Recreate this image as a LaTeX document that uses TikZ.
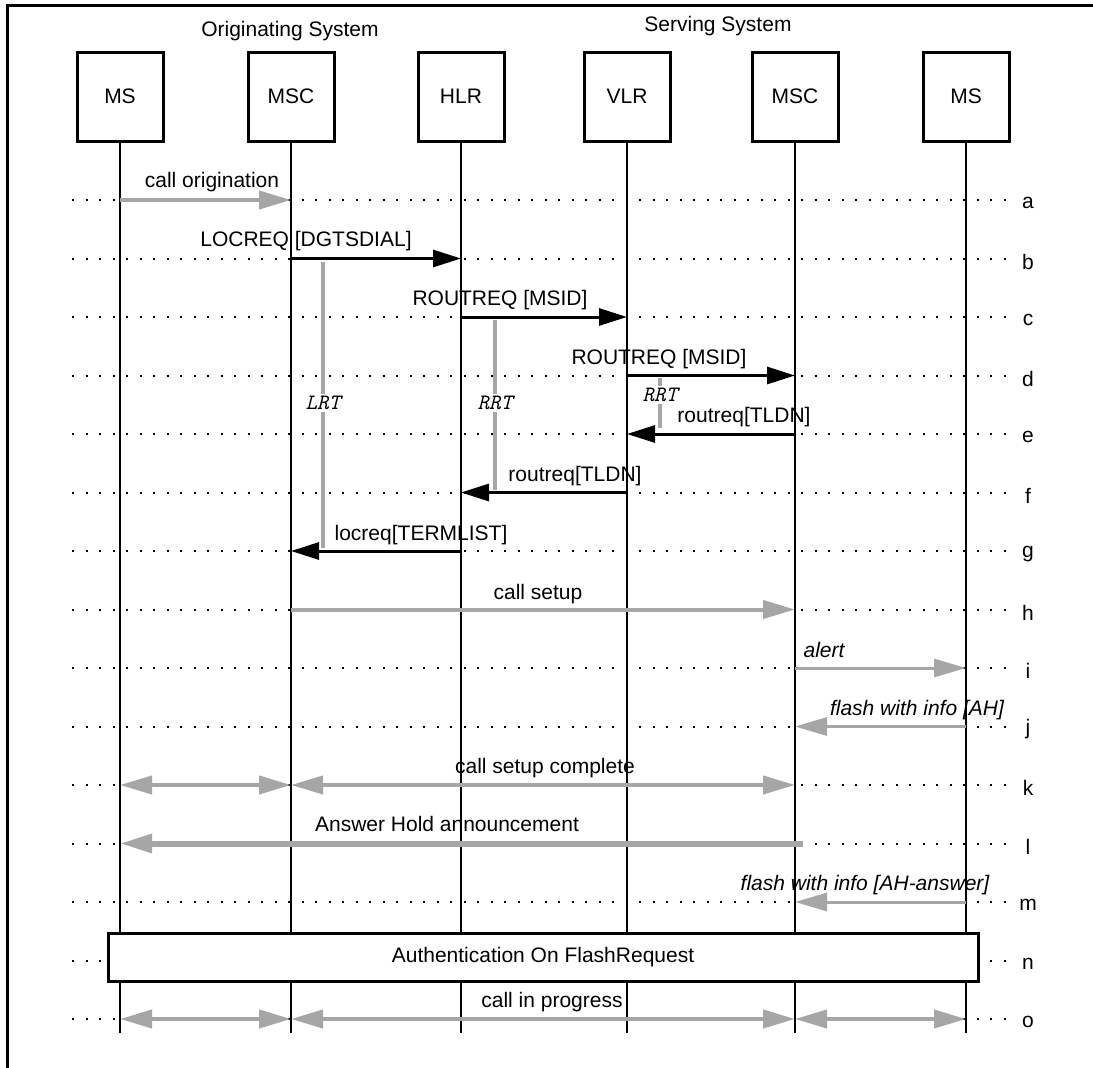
\documentclass[tikz,border=0pt]{standalone}
\usepackage{fontspec}
\setmainfont{Liberation Sans}
\usetikzlibrary{arrows.meta}

\tikzset{
  entity/.style={draw, line width=3pt, minimum width=86pt, minimum height=89pt, inner sep=0pt},
  lifeline/.style={line width=2.4pt},
  rowline/.style={line width=2pt, dash pattern=on 2pt off 11.5pt},
  rowletter/.style={inner sep=0pt},
  msg/.style={line width=3pt, -{Triangle[length=28pt,width=17pt]}},
  sig/.style={gray!70, line width=4pt, -{Triangle[length=32pt,width=18pt]}},
  dsig/.style={gray!70, line width=4pt, {Triangle[length=32pt,width=18pt]}-{Triangle[length=32pt,width=18pt]}},
  lbl/.style={anchor=base, inner sep=0pt},
  ilbl/.style={lbl, font=\fontsize{21}{25}\selectfont\itshape},
  timer/.style={gray!70, line width=4pt},
  timerlbl/.style={fill=white, inner sep=2pt, text=black, font=\fontsize{22}{26}\selectfont\ttfamily\itshape},
}

\begin{document}
\begin{tikzpicture}[x=1pt, y=-1pt, every node/.style={font=\fontsize{21}{25}\selectfont}]
\useasboundingbox (0,0) rectangle (1093,1068);
\draw[line width=3pt] (1093,5) -- (7,5) -- (7,1068);

% systems
\node (orig) at (290,31) {Originating System};
\node (serv) at (718,26) {Serving System};
\node[entity] (msA) at (120,96.5) {MS};
\node[entity] (mscA) at (291,96.5) {MSC};
\node[entity] (hlr) at (461,96.5) {HLR};
\node[entity] (vlr) at (627,96.5) {VLR};
\node[entity] (mscB) at (795,96.5) {MSC};
\node[entity] (msB) at (966,96.5) {MS};

% rows
\coordinate (rowleft) at (72,0);
\coordinate (rowright) at (1015,0);
\coordinate (bottom) at (0,1033);
\foreach \r [count=\i from 0] in {a,b,c,d,e,f,g,h,i,j,k,l,m,n,o} {
  \coordinate (row\r) at (0,200+58.5*\i);
  \draw[rowline] (rowleft |- row\r) -- (rowright |- row\r);
  \node[rowletter] (let\r) at (1028,203+58.5*\i) {\r};
}

% lifelines
\foreach \e in {msA,mscA,hlr,vlr,mscB,msB}
  \draw[lifeline] (\e.south) -- (\e |- bottom);

\node[draw, fill=white, line width=3pt, minimum width=870pt, minimum height=48pt] (auth) at (543,957) {Authentication On FlashRequest};

% timers
\draw[timer] (323,262) -- (323,548);
\node[timerlbl] (lrt) at (323,403) {LRT};
\draw[timer] (495,320) -- (495,490);
\node[timerlbl] (rrtA) at (495,403) {RRT};
\draw[timer] (660,378) -- (660,428);
\node[timerlbl] (rrtB) at (660,395) {RRT};

% messages
\draw[sig] (msA |- rowa) -- (mscA |- rowa);
\node[lbl] (ta) at (212,187) {call origination};
\draw[msg] (mscA |- rowb) -- (hlr |- rowb);
\node[lbl] (tb) at (306,246) {LOCREQ [DGTSDIAL]};
\draw[msg] (hlr |- rowc) -- (vlr |- rowc);
\node[lbl] (tc) at (500,305) {ROUTREQ [MSID]};
\draw[msg] (vlr |- rowd) -- (mscB |- rowd);
\node[lbl] (td) at (659,364) {ROUTREQ [MSID]};
\draw[msg] (mscB |- rowe) -- (vlr |- rowe);
\node[lbl] (te) at (744,422) {routreq[TLDN]};
\draw[msg] (vlr |- rowf) -- (hlr |- rowf);
\node[lbl] (tf) at (575,481) {routreq[TLDN]};
\draw[msg] (hlr |- rowg) -- (mscA |- rowg);
\node[lbl] (tg) at (421,540) {locreq[TERMLIST]};
\draw[sig] (mscA |- rowh) -- (mscB |- rowh);
\node[lbl] (th) at (538,599) {call setup};
\draw[sig, line width=3pt] (mscB |- rowi) -- (msB |- rowi);
\node[ilbl] (ti) at (824,657) {alert};
\draw[sig, line width=3pt] (msB |- rowj) -- (mscB |- rowj);
\node[ilbl] (tj) at (917,715) {flash with info [AH]};
\draw[dsig] (msA |- rowk) -- (mscA |- rowk);
\draw[dsig] (mscA |- rowk) -- (mscB |- rowk);
\node[lbl] (tk) at (545,773) {call setup complete};
\draw[sig, line width=6pt] ([xshift=8pt]mscB |- rowl) -- (msA |- rowl);
\node[lbl] (tl) at (447,831) {Answer Hold announcement};
\draw[sig, line width=3pt] (msB |- rowm) -- (mscB |- rowm);
\node[ilbl] (tm) at (865,890) {flash with info [AH-answer]};
\draw[dsig] (msA |- rowo) -- (mscA |- rowo);
\draw[dsig] (mscA |- rowo) -- (mscB |- rowo);
\draw[dsig] (mscB |- rowo) -- (msB |- rowo);
\node[lbl] (to) at (552,1007) {call in progress};
\end{tikzpicture}
\end{document}
